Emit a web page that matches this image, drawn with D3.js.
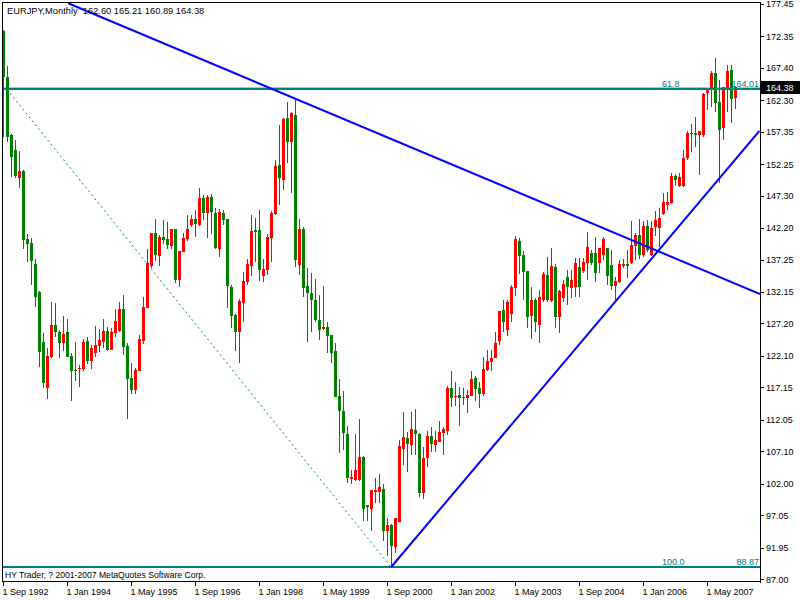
<!DOCTYPE html>
<html><head><meta charset="utf-8">
<script src="https://cdn.jsdelivr.net/npm/d3@7"></script>
<style>
html,body{margin:0;padding:0;background:#fff;}
svg{display:block;}
</style></head><body>
<svg id="chart" width="800" height="600"></svg>
<script>
// Monthly EURJPY bars, first bar = Sep 1992 (index 0), one bar per month
const opens = [173.20,165.95,156.83,154.47,150.07,151.21,140.48,139.85,136.55,132.19,124.28,117.10,121.97,126.96,125.86,124.17,125.86,122.08,119.88,120.04,
120.04,124.44,121.34,122.60,123.70,124.28,126.01,123.03,125.70,126.01,129.47,123.66,118.63,116.74,119.73,124.44,129.68,136.28,141.42,137.85,
140.79,140.48,139.42,142.05,134.08,138.48,140.48,142.68,143.62,142.68,146.92,144.61,147.08,144.56,138.91,144.56,143.62,132.98,128.58,125.90,
130.46,133.67,136.28,141.89,141.89,134.71,135.60,140.68,144.41,152.11,149.75,159.50,155.77,159.97,136.39,142.05,133.13,131.99,130.89,127.74,
126.38,126.69,125.38,122.87,115.80,113.44,109.82,102.75,102.59,102.59,106.21,98.66,98.03,100.75,100.75,101.17,94.57,95.52,92.10,96.03,
107.46,109.24,108.09,110.45,109.82,100.59,106.05,109.55,108.09,108.56,110.03,110.29,117.05,115.69,115.95,115.69,115.53,115.80,118.63,117.05,
116.11,119.88,121.14,121.82,124.44,129.32,126.17,128.69,132.82,140.21,137.96,135.45,128.37,130.89,126.96,130.89,134.82,130.73,136.00,128.26,
131.15,134.50,132.78,132.98,136.12,135.49,136.66,138.28,138.32,136.70,137.96,139.06,136.39,133.09,133.76,136.28,136.55,136.66,139.38,141.11,
137.96,142.52,137.96,142.32,142.16,144.41,145.82,146.09,150.38,148.81,148.81,153.16,156.98,157.19,156.83,156.83,163.38,163.90,166.62,162.06,
157.88,164.01,167.05,162.60];
const highs = [173.40,167.67,157.00,156.04,154.31,151.32,141.26,140.63,137.33,132.35,125.70,123.34,130.62,130.42,126.17,128.37,127.90,122.56,124.28,120.67,
124.76,125.07,123.81,126.80,126.33,127.90,126.64,126.49,129.47,130.62,131.67,124.13,121.03,120.24,125.38,131.41,138.91,141.42,143.62,141.11,
143.46,143.15,142.05,142.10,138.59,141.47,144.25,144.25,145.04,148.49,147.39,147.44,147.55,145.35,145.24,145.04,143.70,133.25,128.69,131.04,
135.29,137.38,144.25,143.78,145.04,137.33,141.22,144.88,152.90,158.40,159.50,162.01,160.44,162.33,143.62,142.36,135.97,135.18,134.19,131.67,
133.09,127.43,125.45,124.17,118.47,116.58,111.08,104.16,109.82,112.18,106.30,98.70,101.02,102.95,103.53,101.96,96.66,95.60,96.66,108.88,
113.28,110.14,113.28,113.75,109.93,107.83,110.29,110.92,110.29,111.87,110.92,117.37,119.73,118.00,117.21,117.00,116.74,119.73,118.94,118.04,
121.97,123.03,123.03,125.86,129.16,130.89,130.89,133.25,140.95,140.63,138.59,135.50,132.98,131.20,132.46,135.34,137.69,139.06,136.50,132.46,
134.03,135.60,135.60,137.44,137.44,137.49,141.62,138.75,140.79,139.06,140.79,139.10,138.75,134.55,137.17,137.33,138.75,143.31,141.42,143.57,
143.31,143.46,143.31,144.88,145.35,147.76,147.87,150.81,150.70,150.81,154.47,157.46,158.56,159.70,157.50,163.38,164.17,166.94,168.98,165.47,
164.42,167.78,167.78,164.45];
const lows = [156.50,155.73,150.22,150.07,148.49,138.91,136.91,133.25,129.79,120.40,117.05,115.32,121.82,125.12,121.82,122.92,121.93,115.06,118.20,117.21,
119.77,120.78,120.04,121.97,122.71,123.39,122.87,122.95,125.07,125.86,122.24,112.23,116.11,116.11,119.65,123.97,129.63,135.92,137.07,136.28,
139.69,138.91,138.91,133.61,132.98,138.40,140.21,142.41,140.84,142.60,143.46,140.68,141.26,138.91,137.69,142.73,129.63,126.49,122.87,121.03,
127.48,133.25,134.66,136.86,133.87,133.76,134.82,136.91,144.30,145.82,148.18,152.47,147.71,136.12,134.82,131.41,124.33,125.90,127.43,124.60,
126.17,122.56,120.98,115.60,106.83,107.31,102.12,101.96,102.50,102.50,96.19,96.19,94.57,98.97,98.97,93.00,90.64,88.87,91.16,95.95,
104.95,103.89,106.52,106.52,99.96,99.60,104.63,106.99,106.99,108.50,106.52,109.66,114.07,114.22,111.08,114.38,113.12,115.75,115.01,113.91,
115.80,119.73,119.73,121.75,123.81,125.86,125.23,127.43,131.56,134.97,130.89,126.49,124.76,125.86,124.13,130.57,130.57,130.57,126.44,125.75,
130.57,130.10,131.15,131.41,131.41,135.13,134.03,136.39,133.76,135.13,137.17,133.25,132.46,130.89,133.56,135.92,134.30,136.55,137.17,137.33,
137.65,138.43,137.80,140.95,139.22,144.30,145.04,145.98,148.81,148.65,148.65,152.90,154.15,154.99,150.54,156.51,160.76,161.28,160.49,149.23,
156.04,160.49,158.67,160.89];
const closes = [165.95,156.51,153.37,150.38,151.17,140.32,139.74,137.02,131.41,122.76,117.89,122.08,126.96,125.90,124.17,125.59,121.97,119.77,119.73,120.24,
124.28,121.30,123.34,123.81,124.60,126.01,123.03,125.86,127.59,129.47,123.55,118.52,116.74,119.88,124.76,129.79,136.75,141.42,138.01,140.79,
140.32,139.58,142.05,134.08,138.59,140.63,142.05,143.62,142.84,146.92,144.61,147.08,144.77,139.06,144.72,143.46,133.13,128.42,125.90,130.73,
133.87,136.55,141.73,141.62,135.60,135.76,140.79,144.61,152.00,150.11,159.34,155.77,160.29,137.18,142.05,132.82,132.04,130.89,127.74,126.17,
126.69,125.23,122.56,115.69,113.48,109.98,102.86,103.11,104.16,106.25,98.03,98.39,101.02,101.02,101.54,94.57,95.52,92.21,96.66,107.98,
109.40,108.25,110.61,109.82,100.59,106.05,109.55,108.25,108.88,110.14,110.61,117.05,115.53,115.80,115.53,115.53,115.95,118.47,116.90,116.11,
120.04,121.30,121.77,124.17,129.16,127.43,130.57,132.98,140.48,137.80,135.34,128.26,130.89,127.43,131.36,134.97,130.89,136.23,128.26,132.35,
133.40,132.93,134.03,136.75,132.98,136.91,139.27,136.70,135.08,139.06,140.48,134.66,133.09,133.87,136.55,136.55,136.28,139.53,141.11,137.96,
142.52,138.75,142.25,143.46,143.78,146.25,146.25,150.38,149.75,150.18,153.21,157.19,157.14,156.83,157.46,163.23,164.17,166.62,161.81,157.61,
164.42,166.94,162.44,164.38];

const dateTickIndex = [0,16,32,48,64,80,96,112,128,144,160,176];
const dateTickLabels = ["1 Sep 1992","1 Jan 1994","1 May 1995","1 Sep 1996","1 Jan 1998","1 May 1999",
  "1 Sep 2000","1 Jan 2002","1 May 2003","1 Sep 2004","1 Jan 2006","1 May 2007"];
const priceTicks = [177.45,172.35,167.40,162.30,157.35,152.25,147.30,142.20,137.25,132.15,127.20,122.10,
  117.15,112.05,107.10,102.00,97.05,91.95,87.00];

const fibNames = ["61.8","100.0"];
const fibPrices = [164.01, 88.87];
const fibDiagIdx = [1, 97];
const fibDiagPrice = [164.01, 88.87];
const trendAIdx = [16.3, 189.25];
const trendAPrice = [177.55, 131.83];
const trendBIdx = [97, 189.1];
const trendBPrice = [88.87, 157.46];

const headerText = "EURJPY,Monthly  162.60 165.21 160.89 164.38";
const lastPrice = 164.38;
const footerText = "HY Trader, ? 2001-2007 MetaQuotes Software Corp.";

const FONT = "'Liberation Sans', Arial, sans-serif";
const svg = d3.select("#chart");
svg.append("rect").attr("width",800).attr("height",600).attr("fill","#fff");

const x = d3.scaleLinear().domain([-0.25, 189.25]).range([2, 760]);
const y = d3.scaleLinear().domain([86.55, 177.74]).range([582, 2]);
const yr = v => Math.round(y(v));

svg.append("defs").append("clipPath").attr("id","plot")
  .append("rect").attr("x",2).attr("y",2).attr("width",758).attr("height",580);
const plot = svg.append("g").attr("clip-path","url(#plot)");

// current price line
plot.append("line").attr("x1",2).attr("x2",760)
  .attr("y1",yr(lastPrice)+0.5).attr("y2",yr(lastPrice)+0.5)
  .attr("stroke","#c0c0c0").attr("stroke-width",1);

const bars = opens.map((o,i)=>({i, o, h:highs[i], l:lows[i], c:closes[i]}));
const color = d => d.c >= d.o ? "#ff0000" : "#008000";
const cg = plot.append("g").attr("shape-rendering","crispEdges");
cg.selectAll("line.wick").data(bars).join("line").attr("class","wick")
  .attr("x1", d=>Math.round(x(d.i))+0.5).attr("x2", d=>Math.round(x(d.i))+0.5)
  .attr("y1", d=>y(d.h)).attr("y2", d=>y(d.l))
  .attr("stroke", color).attr("stroke-width",1);
cg.selectAll("rect.body").data(bars).join("rect").attr("class","body")
  .attr("x", d=>Math.round(x(d.i))-1).attr("width",3)
  .attr("y", d=>Math.min(y(d.o),y(d.c)))
  .attr("height", d=>Math.max(1, Math.abs(y(d.o)-y(d.c))))
  .attr("fill", color);

// header
svg.append("text").attr("x",7).attr("y",14).attr("font-family",FONT).attr("font-size",9.3)
  .style("white-space","pre").attr("fill","#000").text(headerText);

// fibo levels
fibPrices.forEach((p,k)=>{
  plot.append("line").attr("x1",2).attr("x2",760).attr("y1",yr(p)).attr("y2",yr(p))
    .attr("stroke","#008080").attr("stroke-width",2);
  svg.append("text").attr("x",662).attr("y",yr(p)-2.5).attr("font-family",FONT).attr("font-size",9)
    .attr("fill","#008080").text(fibNames[k]);
  svg.append("text").attr("x",759).attr("y",yr(p)-2.5).attr("text-anchor","end").attr("font-family",FONT)
    .attr("font-size",9).attr("fill","#008080").text(p.toFixed(2));
});
plot.append("line")
  .attr("x1",x(fibDiagIdx[0])).attr("y1",y(fibDiagPrice[0]))
  .attr("x2",x(fibDiagIdx[1])).attr("y2",y(fibDiagPrice[1]))
  .attr("stroke","#008080").attr("stroke-width",1).attr("stroke-dasharray","2,3");

// trendlines
[[trendAIdx,trendAPrice],[trendBIdx,trendBPrice]].forEach(([ix,pr])=>{
  plot.append("line").attr("x1",x(ix[0])).attr("y1",y(pr[0])).attr("x2",x(ix[1])).attr("y2",y(pr[1]))
    .attr("stroke","#0000ff").attr("stroke-width",2);
});

// borders
svg.append("line").attr("x1",2.5).attr("x2",2.5).attr("y1",2).attr("y2",582).attr("stroke","#000");
svg.append("line").attr("x1",2).attr("x2",761).attr("y1",2.5).attr("y2",2.5).attr("stroke","#000");

// axes
const xAxis = d3.axisBottom(x).tickValues(dateTickIndex).tickFormat((d,k)=>dateTickLabels[k])
  .tickSize(5).tickSizeOuter(0).tickPadding(3);
const gx = svg.append("g").attr("transform","translate(0,581)").call(xAxis)
  .attr("font-family",FONT).attr("font-size",9);
gx.selectAll("text").attr("text-anchor","start").attr("x",-1).attr("fill","#000");
gx.selectAll("line,path").attr("stroke","#000").attr("shape-rendering","crispEdges");

const yAxis = d3.axisRight(y).tickValues(priceTicks).tickFormat(d3.format(".2f"))
  .tickSize(4).tickSizeOuter(0).tickPadding(2);
const gy = svg.append("g").attr("transform","translate(760,0)").call(yAxis)
  .attr("font-family",FONT).attr("font-size",9);
gy.selectAll("text").attr("fill","#000");
gy.selectAll("line,path").attr("stroke","#000").attr("shape-rendering","crispEdges");

// last price box
svg.append("rect").attr("x",761).attr("y",yr(lastPrice)-6).attr("width",39).attr("height",13).attr("fill","#000");
svg.append("text").attr("x",766).attr("y",yr(lastPrice)+3.5).attr("font-family",FONT).attr("font-size",9)
  .attr("fill","#fff").text(lastPrice.toFixed(2));

// footer
svg.append("text").attr("x",5).attr("y",578).attr("font-family",FONT).attr("font-size",8.6)
  .attr("fill","#000").text(footerText);
</script>
</body></html>
